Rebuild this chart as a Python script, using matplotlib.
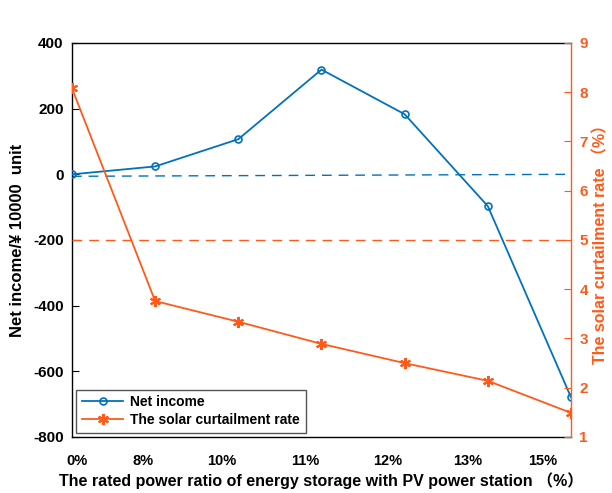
import numpy as np
from matplotlib import pyplot as plt

categories = ["0%", "8%", "10%", "11%", "12%", "13%", "15%"]
net_income = [0, 24, 107, 319, 183, -97, -679]
curtailment = [8.08, 3.76, 3.34, 2.89, 2.50, 2.14, 1.49]
income_ref = [-6, 0]
curtail_ref = [5, 5]

blue = "#0072BD"
orange = "#FF5A1A"
fam = ["Liberation Sans", "Noto Sans CJK SC", "DejaVu Sans"]
plt.rcParams["font.family"] = fam
plt.rcParams["font.weight"] = "bold"
plt.rcParams["axes.unicode_minus"] = False

fig = plt.figure(figsize=(6.12, 4.93), dpi=100)
ax = fig.add_axes([0.1176, 0.1136, 0.8154, 0.7992])
ax2 = ax.twinx()

x = np.arange(len(categories))

l1, = ax.plot(x, net_income, color=blue, lw=1.3, marker="o", ms=5,
              mfc="none", mew=1.2, label="Net income", zorder=3)
ax.plot([x[0], x[-1]], income_ref, color=blue, lw=1, ls=(0, (7, 5)))
l2, = ax2.plot(x, curtailment, color=orange, lw=1.3, marker=(6, 2, 0), ms=8,
               mew=1.5, label="The solar curtailment rate", zorder=3)
ax2.plot([x[0], x[-1]], curtail_ref, color=orange, lw=1, ls=(0, (7, 5)))

ax.set_xlim(0, 6)
ax.set_ylim(-800, 400)
ax.set_yticks(range(-800, 401, 200))
ax2.set_ylim(1, 9)
ax2.set_yticks(range(1, 10))

# x labels sit off the points in the original
ax.set_xticks([0.06, 0.85, 1.80, 2.80, 3.79, 4.76, 5.66])
ax.set_xticklabels(categories)
ax.tick_params(axis="x", length=0, pad=12, labelsize=10.5)
ax.tick_params(axis="y", direction="in", length=5, labelsize=11, pad=6)
ax2.tick_params(axis="y", direction="in", length=5, labelsize=11,
                colors=orange, pad=6)
for lab in ax.get_xticklabels() + ax.get_yticklabels() + ax2.get_yticklabels():
    lab.set_fontweight("bold")

ax.spines["right"].set_visible(False)
ax2.spines["right"].set_color(orange)
ax2.spines["left"].set_visible(False)
ax2.spines["top"].set_visible(False)
ax2.spines["bottom"].set_visible(False)
for s in list(ax.spines.values()) + list(ax2.spines.values()):
    s.set_linewidth(1)

ax.set_ylabel("Net income/¥ 10000  unit", fontsize=12, fontweight="bold",
              labelpad=6)
ax2.set_ylabel("The solar curtailment rate （%）", fontsize=11.5,
               fontweight="bold", color=orange, labelpad=4)
ax.set_xlabel("The rated power ratio of energy storage with PV power station （%）",
              fontsize=11.5, fontweight="bold", labelpad=3)

leg = ax.legend(handles=[l1, l2], loc="lower left", fontsize=10,
                handlelength=3.0, handletextpad=0.5, borderaxespad=0.3,
                fancybox=False, edgecolor="#555555", framealpha=1,
                borderpad=0.4, labelspacing=0.3)
leg.get_frame().set_linewidth(1)
for t in leg.get_texts():
    t.set_fontweight("bold")

fig.savefig("out.png", dpi=100)
